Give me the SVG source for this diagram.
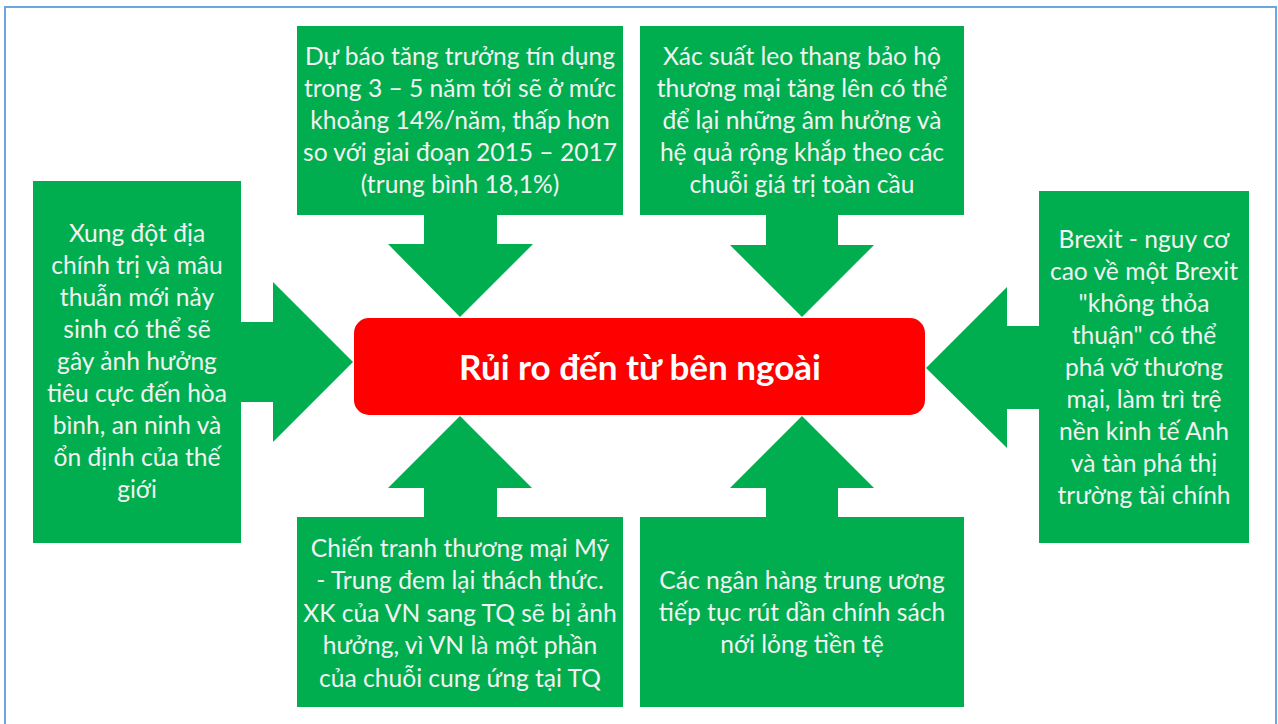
<svg xmlns="http://www.w3.org/2000/svg" width="1278" height="724" viewBox="0 0 1278 724">
<style>
.frame{fill:#ffffff;stroke:#6aa6e0;stroke-width:2}
.g{fill:#00ae4f}
.t{font-family:Lato,"Noto Sans",sans-serif;font-size:24.6px;fill:#f2f2f2;text-anchor:middle}
.title{font-family:Lato,"Noto Sans",sans-serif;font-size:35px;font-weight:bold;fill:#ffffff;text-anchor:middle}
</style>
<rect class="frame" x="5" y="7" width="1271" height="740"/>
<g id="center">
<rect x="354" y="318" width="571" height="97" rx="15" ry="15" fill="#ff0000"/>
<text class="title" x="640" y="380">Rủi ro đến từ bên ngoài</text>
</g>
<g id="connectors"></g>
<g id="top-left">
<path class="g" d="M297 26 H623 V215 H497 V244 H533 L460 317 L388 244 H424 V215 H297 Z"/>
<text class="t" x="460" y="65">Dự báo tăng trưởng tín dụng</text>
<text class="t" x="460" y="97">trong 3 – 5 năm tới sẽ ở mức</text>
<text class="t" x="460" y="129">khoảng 14%/năm, thấp hơn</text>
<text class="t" x="460" y="161">so với giai đoạn 2015 – 2017</text>
<text class="t" x="460" y="193">(trung bình 18,1%)</text>
</g>
<g id="top-right">
<path class="g" d="M640 26 H964 V215 H838 V245 H874 L802 317 L730 245 H766 V215 H640 Z"/>
<text class="t" x="802" y="65">Xác suất leo thang bảo hộ</text>
<text class="t" x="802" y="97">thương mại tăng lên có thể</text>
<text class="t" x="802" y="129">để lại những âm hưởng và</text>
<text class="t" x="802" y="161">hệ quả rộng khắp theo các</text>
<text class="t" x="802" y="193">chuỗi giá trị toàn cầu</text>
</g>
<g id="left">
<path class="g" d="M33 181 H241 V322 H273 V282 L353 362 L273 442 V402 H241 V543 H33 Z"/>
<text class="t" x="137" y="242">Xung đột địa</text>
<text class="t" x="137" y="274">chính trị và mâu</text>
<text class="t" x="137" y="306">thuẫn mới nảy</text>
<text class="t" x="137" y="338">sinh có thể sẽ</text>
<text class="t" x="137" y="370">gây ảnh hưởng</text>
<text class="t" x="137" y="402">tiêu cực đến hòa</text>
<text class="t" x="137" y="434">bình, an ninh và</text>
<text class="t" x="137" y="466">ổn định của thế</text>
<text class="t" x="137" y="498">giới</text>
</g>
<g id="right">
<path class="g" d="M1249 191 H1039 V326 H1007 V287 L926 368 L1007 448 V409 H1039 V543 H1249 Z"/>
<text class="t" x="1144" y="248">Brexit - nguy cơ</text>
<text class="t" x="1144" y="280">cao về một Brexit</text>
<text class="t" x="1144" y="312">"không thỏa</text>
<text class="t" x="1144" y="344">thuận" có thể</text>
<text class="t" x="1144" y="376">phá vỡ thương</text>
<text class="t" x="1144" y="408">mại, làm trì trệ</text>
<text class="t" x="1144" y="440">nền kinh tế Anh</text>
<text class="t" x="1144" y="472">và tàn phá thị</text>
<text class="t" x="1144" y="504">trường tài chính</text>
</g>
<g id="bottom-left">
<path class="g" d="M297 707 H623 V517 H497 V488 H532 L460 416 L388 488 H424 V517 H297 Z"/>
<text class="t" x="460" y="557">Chiến tranh thương mại Mỹ</text>
<text class="t" x="460" y="589">- Trung đem lại thách thức.</text>
<text class="t" x="460" y="622">XK của VN sang TQ sẽ bị ảnh</text>
<text class="t" x="460" y="654">hưởng, vì VN là một phần</text>
<text class="t" x="460" y="687">của chuỗi cung ứng tại TQ</text>
</g>
<g id="bottom-right">
<path class="g" d="M640 707 H964 V517 H838 V488 H874 L802 416 L730 488 H766 V517 H640 Z"/>
<text class="t" x="802" y="589">Các ngân hàng trung ương</text>
<text class="t" x="802" y="621">tiếp tục rút dần chính sách</text>
<text class="t" x="802" y="653">nới lỏng tiền tệ</text>
</g>
</svg>
